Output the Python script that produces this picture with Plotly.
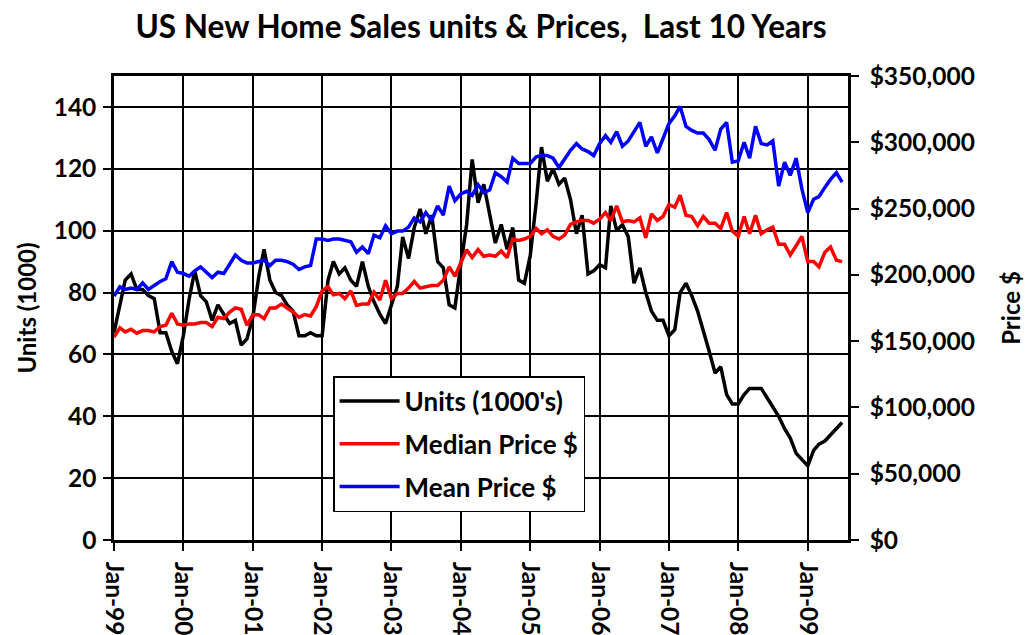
import plotly.graph_objects as go
import pandas as pd

# Monthly data, Jan-1999 .. Jul-2009
months = pd.date_range("1999-01-01", "2009-07-01", freq="MS")

units = [
    67, 76, 84, 86, 81, 81, 79, 78, 67, 67, 61, 57,        # 1999
    66, 78, 87, 79, 77, 71, 76, 73, 70, 71, 63, 65,        # 2000
    72, 85, 94, 84, 80, 79, 76, 74, 66, 66, 67, 66,        # 2001
    66, 84, 90, 86, 88, 84, 82, 90, 82, 77, 73, 70,        # 2002
    76, 82, 98, 91, 101, 107, 99, 105, 90, 88, 76, 75,     # 2003
    89, 102, 123, 109, 115, 105, 96, 102, 94, 101, 84, 83, # 2004
    92, 109, 127, 116, 120, 115, 117, 110, 99, 105, 86, 87,# 2005
    89, 88, 108, 100, 102, 98, 83, 88, 80, 74, 71, 71,     # 2006
    66, 68, 80, 83, 79, 74, 68, 61, 54, 56, 47, 44,        # 2007
    44, 47, 49, 49, 49, 46, 43, 40, 36, 33, 28, 26,        # 2008
    24, 29, 31, 32, 34, 36, 38,                            # 2009
]

median_k = [
    153, 160, 157, 159, 156, 158, 158, 157, 161, 162, 171, 163,
    162, 163, 163, 164, 164, 161, 168, 167, 172, 175, 174, 162,
    170, 170, 167, 175, 175, 178, 175, 172, 168, 170, 169, 176,
    188, 191, 185, 186, 182, 188, 177, 178, 178, 187, 181, 196,
    182, 186, 186, 190, 195, 190, 191, 192, 192, 196, 206, 199,
    209, 219, 213, 219, 214, 215, 214, 218, 213, 227, 226, 227,
    229, 235, 231, 234, 229, 227, 230, 238, 240, 241, 241, 239,
    242, 247, 241, 252, 240, 241, 240, 243, 228, 246, 241, 244,
    253, 251, 260, 245, 244, 237, 244, 239, 239, 235, 247, 233,
    229, 244, 231, 245, 231, 234, 236, 223, 223, 215, 222, 229,
    210, 210, 206, 217, 221, 211, 210,
]

mean_k = [
    184, 191, 189, 190, 189, 194, 189, 192, 195, 197, 210, 202,
    201, 199, 203, 206, 202, 198, 202, 201, 208, 215, 211, 209,
    209, 210, 211, 207, 211, 211, 210, 208, 204, 206, 207, 227,
    227, 226, 227, 227, 226, 225, 217, 221, 216, 230, 228, 237,
    231, 233, 233, 236, 243, 240, 247, 241, 252, 245, 267, 256,
    261, 263, 260, 268, 262, 264, 277, 274, 270, 288, 284, 284,
    284, 289, 290, 290, 288, 281, 288, 294, 299, 295, 293, 290,
    299, 305, 300, 308, 297, 301, 308, 315, 297, 304, 292, 302,
    314, 320, 327, 312, 309, 307, 307, 302, 294, 310, 315, 285,
    286, 300, 288, 312, 299, 298, 301, 267, 285, 275, 288, 265,
    247, 257, 259, 266, 272, 277, 270,
]

median_price = [v * 1000 for v in median_k]
mean_price = [v * 1000 for v in mean_k]

units_ticks = [0, 20, 40, 60, 80, 100, 120, 140]
price_ticks = [0, 50000, 100000, 150000, 200000, 250000, 300000, 350000]

FONT = "Lato"
TICKFONT = dict(family=FONT, size=24.5, color="black", weight="bold")

fig = go.Figure()
fig.add_trace(go.Scatter(x=months, y=units, name="Units (1000's)", mode="lines",
                         line=dict(color="#000000", width=3.5), legendgroup="a"))
fig.add_trace(go.Scatter(x=months, y=median_price, name="Median Price $", mode="lines",
                         line=dict(color="#FF0000", width=3.5), yaxis="y2", legendgroup="b"))
fig.add_trace(go.Scatter(x=months, y=mean_price, name="Mean Price $", mode="lines",
                         line=dict(color="#0000FF", width=3.5), yaxis="y2", legendgroup="c"))

fig.update_layout(
    width=1025, height=635,
    margin=dict(l=114, r=177, t=76, b=95),
    paper_bgcolor="white", plot_bgcolor="white",
    font=dict(family=FONT, size=24, color="black", weight="bold"),
    title=dict(text="US New Home Sales units &amp; Prices,\u00a0\u00a0Last 10 Years",
               x=0.5, xref="paper", xanchor="center", y=0.957, yanchor="middle",
               font=dict(family=FONT, size=31.5, color="black", weight="bold")),
    showlegend=True,
    legend=dict(x=0.2985, y=0.3534, xanchor="left", yanchor="top",
                bgcolor="white", bordercolor="black", borderwidth=1.5,
                font=dict(family=FONT, size=26, color="black", weight="bold"),
                traceorder="grouped", tracegroupgap=6, itemwidth=60),
    xaxis=dict(type="date", range=["1999-01-01", "2009-08-01"],
               tick0="1999-01-01", dtick="M12", tickformat="%b-%y",
               tickangle=90, ticks="outside", ticklen=8, tickwidth=2, tickcolor="black",
               showgrid=True, gridcolor="black", gridwidth=2,
               showline=True, linecolor="black", linewidth=2.5, mirror=True,
               zeroline=False, automargin=False, ticklabelstandoff=6,
               tickfont=TICKFONT),
    yaxis=dict(range=[0, 150], tickvals=units_ticks, ticks="outside", ticklen=8,
               tickwidth=2, tickcolor="black",
               showgrid=True, gridcolor="black", gridwidth=2,
               showline=True, linecolor="black", linewidth=2.5,
               zeroline=False, automargin=False, ticklabelstandoff=2,
               title=dict(text="Units (1000)", standoff=11,
                          font=dict(family=FONT, size=24, color="black", weight="bold")),
               tickfont=TICKFONT),
    yaxis2=dict(range=[0, 350000], tickvals=price_ticks, tickformat="$,.0f",
                overlaying="y", side="right", ticks="outside", ticklen=8,
                tickwidth=2, tickcolor="black", showgrid=False,
                showline=True, linecolor="black", linewidth=2.5,
                zeroline=False, automargin=False, ticklabelstandoff=6,
                title=dict(text="Price $", standoff=34,
                           font=dict(family=FONT, size=24, color="black", weight="bold")),
                tickfont=TICKFONT),
)

fig.write_html("out.html", config={"displayModeBar": False},
               post_script="document.body.style.margin='0';document.body.style.overflow='hidden';")
